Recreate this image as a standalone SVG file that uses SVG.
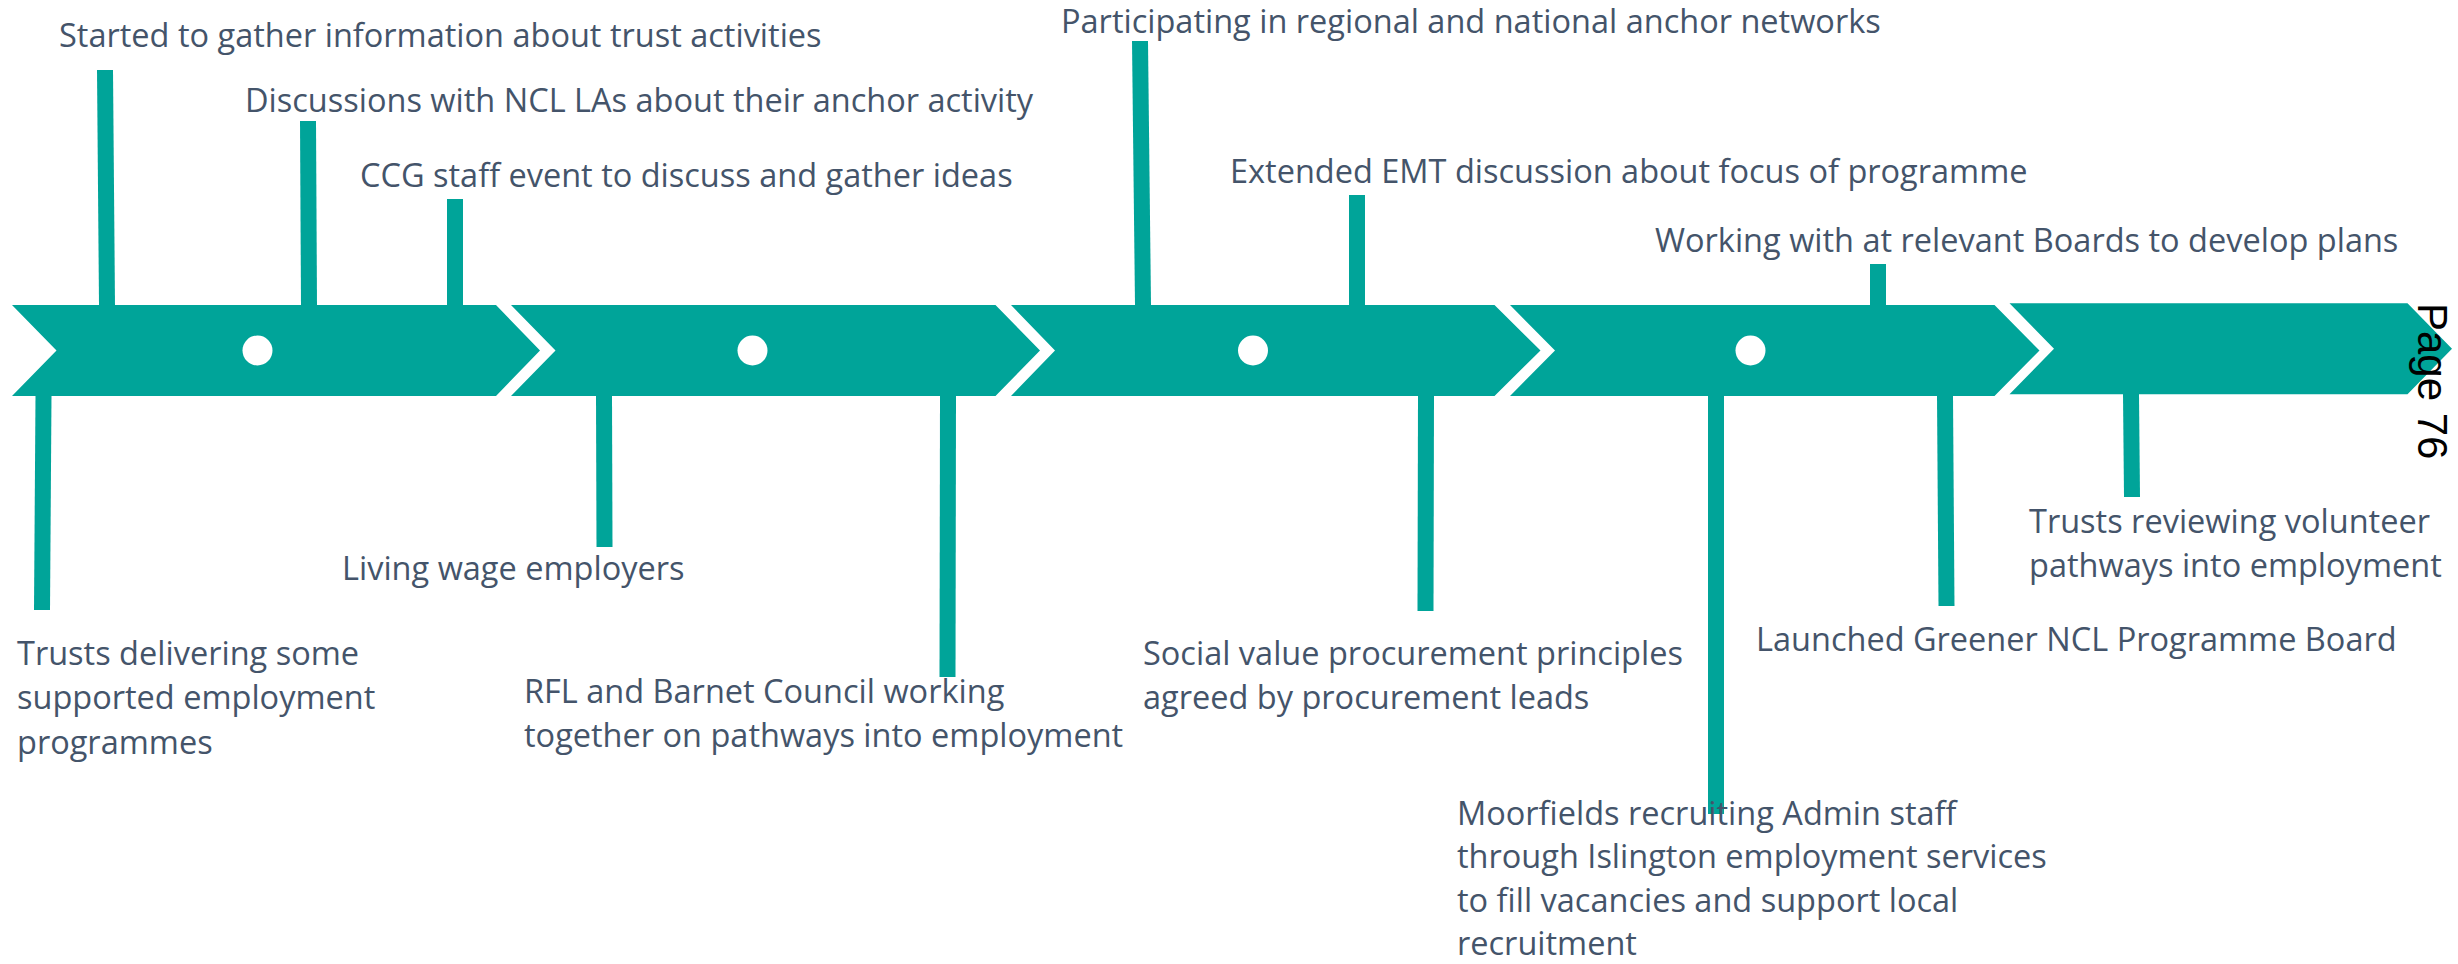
<svg xmlns="http://www.w3.org/2000/svg" width="2458" height="964" viewBox="0 0 2458 964">
<style>
.bg{fill:#ffffff}
.chev{fill:#00A499}
.dot{fill:#ffffff}
.lbl{font-family:"Open Sans","Liberation Sans",sans-serif;font-size:32.5px;fill:#44546A}
.conn line{stroke:#00A499;stroke-width:16;stroke-linecap:butt}
.page{font-family:"Liberation Sans",Arial,sans-serif;font-size:42px;fill:#000000}
</style>
<rect class="bg" x="0" y="0" width="2458" height="964"/>
<g id="timeline">
<polygon class="chev" points="12,305 496,305 540,350.5 496,396 12,396 56.5,350.5"/>
<polygon class="chev" points="511,305 995.5,305 1040,350.5 995.5,396 511,396 555.5,350.5"/>
<polygon class="chev" points="1011,305 1494.5,305 1540.5,350.5 1494.5,396 1011,396 1055,350.5"/>
<polygon class="chev" points="1510,305 1994.5,305 2039.5,350.5 1994.5,396 1510,396 1555,350.5"/>
<polygon class="chev" points="2009.5,303.3 2407.5,303.3 2452,348.8 2407.5,394.3 2009.5,394.3 2054,348.8"/>
<circle class="dot" cx="257.5" cy="350.5" r="15"/>
<circle class="dot" cx="752.5" cy="350.5" r="15"/>
<circle class="dot" cx="1253" cy="350.5" r="15"/>
<circle class="dot" cx="1750.5" cy="350.5" r="15"/>
</g>
<g id="connectors" class="conn">
<line x1="105" y1="70" x2="107" y2="305"/>
<line x1="308" y1="121" x2="309" y2="305"/>
<line x1="455" y1="199" x2="455" y2="305"/>
<line x1="1140" y1="41" x2="1143" y2="305"/>
<line x1="1357" y1="195" x2="1357" y2="305"/>
<line x1="1878" y1="264" x2="1878" y2="305"/>
<line x1="43.5" y1="396" x2="42" y2="610"/>
<line x1="604" y1="396" x2="604.5" y2="547"/>
<line x1="948" y1="396" x2="947.5" y2="677"/>
<line x1="1426" y1="396" x2="1425.5" y2="611"/>
<line x1="1716" y1="396" x2="1716" y2="814"/>
<line x1="1945" y1="396" x2="1946.5" y2="606"/>
<line x1="2131" y1="394" x2="2132" y2="497"/>
</g>
<g id="ev-started"><text class="lbl" x="59" y="47">Started to gather information about trust activities</text></g>
<g id="ev-discussions"><text class="lbl" x="245" y="112">Discussions with NCL LAs about their anchor activity</text></g>
<g id="ev-ccg"><text class="lbl" x="360" y="187">CCG staff event to discuss and gather ideas</text></g>
<g id="ev-participating"><text class="lbl" x="1061" y="33">Participating in regional and national anchor networks</text></g>
<g id="ev-emt"><text class="lbl" x="1230" y="183">Extended EMT discussion about focus of programme</text></g>
<g id="ev-boards"><text class="lbl" x="1655" y="252">Working with at relevant Boards to develop plans</text></g>
<g id="ev-trusts-supported"><text class="lbl"><tspan x="17" y="665">Trusts delivering some</tspan><tspan x="17" y="709">supported employment</tspan><tspan x="17" y="753.5">programmes</tspan></text></g>
<g id="ev-living-wage"><text class="lbl" x="342" y="580">Living wage employers</text></g>
<g id="ev-rfl"><text class="lbl"><tspan x="524" y="703">RFL and Barnet Council working</tspan><tspan x="524" y="746.5">together on pathways into employment</tspan></text></g>
<g id="ev-social-value"><text class="lbl"><tspan x="1143" y="665">Social value procurement principles</tspan><tspan x="1143" y="709">agreed by procurement leads</tspan></text></g>
<g id="ev-moorfields"><text class="lbl"><tspan x="1457" y="824.5">Moorfields recruiting Admin staff</tspan><tspan x="1457" y="868">through Islington employment services</tspan><tspan x="1457" y="911.5">to fill vacancies and support local</tspan><tspan x="1457" y="955">recruitment</tspan></text></g>
<g id="ev-greener"><text class="lbl" x="1756" y="651">Launched Greener NCL Programme Board</text></g>
<g id="ev-volunteer"><text class="lbl"><tspan x="2029" y="533">Trusts reviewing volunteer</tspan><tspan x="2029" y="577">pathways into employment</tspan></text></g>
<g id="page-number"><text class="page" transform="translate(2418,303) rotate(90)" x="0" y="0">Page 76</text></g>
</svg>
